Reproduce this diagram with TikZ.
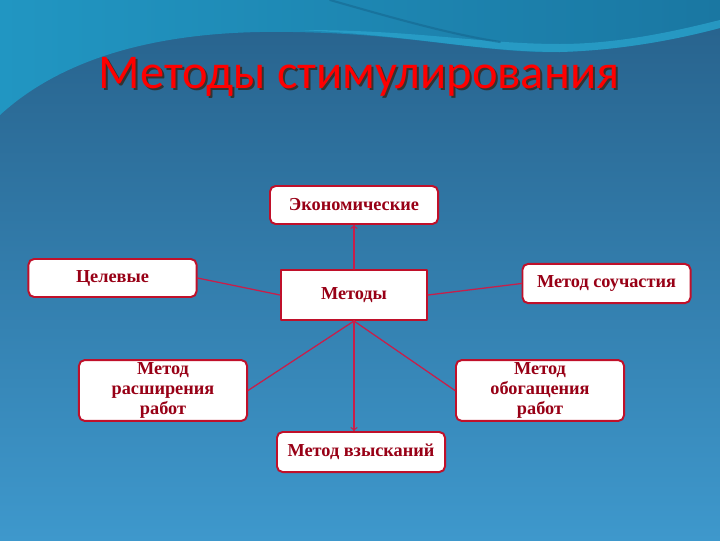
\documentclass[tikz,border=0pt]{standalone}
\usepackage{fontspec}
\setmainfont{Liberation Serif}
\newfontfamily\titlefont{Carlito}
\definecolor{bodytop}{HTML}{27618B}
\definecolor{bodybot}{HTML}{3E98CC}
\definecolor{tealleft}{HTML}{2196C2}
\definecolor{tealright}{HTML}{1A77A2}
\definecolor{streak}{HTML}{2CA6CF}
\definecolor{darkstreak}{HTML}{15628A}
\definecolor{boxred}{HTML}{C0102A}
\definecolor{linered}{HTML}{C81E4A}
\definecolor{textred}{HTML}{980016}
\begin{document}
\begin{tikzpicture}[line cap=round,line join=round,x=0.025cm,y=-0.025cm,
  box/.style={draw=boxred,line width=1.4pt,fill=white,rounded corners=4pt,
    minimum width=4.2cm,minimum height=0.95cm,inner sep=1pt,align=center,
    text=textred,font=\fontsize{13}{14.5}\selectfont\bfseries},
  conn/.style={draw=linered,line width=0.9pt}]
\useasboundingbox (0,0) rectangle (720,540);
% background
\shade[top color=bodytop,bottom color=bodybot] (0,0) rectangle (720,540);
\shade[left color=tealleft,right color=tealright] (0,0) -- (0,115)
  .. controls (60,60) and (150,34) .. (260,32)
  .. controls (400,30) and (480,54) .. (560,52)
  .. controls (630,50) and (690,36) .. (720,28) -- (720,0) -- cycle;
\fill[streak,opacity=0.7] (300,30) .. controls (420,36) and (480,52) .. (560,52)
  .. controls (630,50) and (690,36) .. (720,28) -- (720,20)
  .. controls (680,30) and (620,44) .. (560,44)
  .. controls (480,44) and (420,30) .. (300,30) -- cycle;
\draw[darkstreak,line width=1.5pt,opacity=0.5] (330,0) .. controls (400,20) and (450,34) .. (500,42);

\node[text=black!80,anchor=base,font=\titlefont\fontsize{34.5}{40}\selectfont] at (361,90) {Методы стимулирования};
\node[text=red,anchor=base,font=\titlefont\fontsize{34.5}{40}\selectfont] (title) at (359,88) {Методы стимулирования};

\node[box] (ekon) at (354,205) {Экономические};
\node[box] (tsel) at (112.5,278) {Целевые};
\node[box,rounded corners=0pt,minimum width=3.65cm,minimum height=1.25cm] (metody) at (354,295) {Методы};
\node[box,minimum height=0.98cm] (souch) at (606.5,283.5) {Метод соучастия};
\node[box,minimum height=1.52cm,text width=3.4cm] (rassh) at (163,390.5) {Метод\\расширения\\работ};
\node[box,minimum height=1.52cm,text width=3.4cm] (obog) at (540,390.5) {Метод\\обогащения\\работ};
\node[box,minimum height=1cm] (vzysk) at (361,452) {Метод взысканий};

\draw[conn,->] (metody.north) -- (ekon.south);
\draw[conn] (tsel.east) -- (metody.west);
\draw[conn] (metody.east) -- (souch.west);
\draw[conn] (metody.south) -- (rassh.east);
\draw[conn] (metody.south) -- (obog.west);
\draw[conn,->] (metody.south) -- (metody.south |- vzysk.north);
\end{tikzpicture}
\end{document}
